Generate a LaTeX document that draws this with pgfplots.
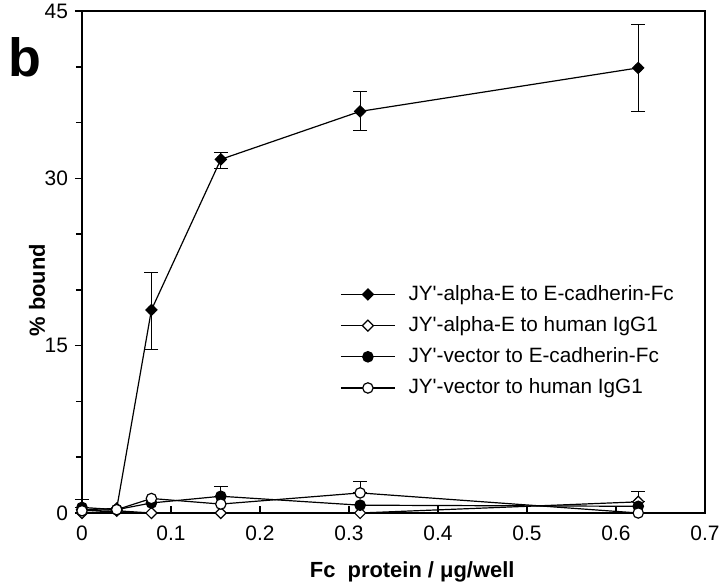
\documentclass[border=0pt]{standalone}
\usepackage{fontspec}
\setmainfont{Liberation Sans}
\usepackage{pgfplots}
\pgfplotsset{compat=1.18}

\begin{document}
\begin{tikzpicture}
\begin{axis}[
  name=main,
  scale only axis,
  width=311.5bp, height=251bp,
  xmin=0, xmax=0.7, ymin=0, ymax=45,
  xtick={0,0.1,0.2,0.3,0.4,0.5,0.6,0.7},
  ytick={0,15,30,45},
  minor ytick={5,10,20,25,35,40},
  xtick pos=left, ytick pos=left,
  xtick align=inside, ytick align=outside,
  major tick length=3.5bp, minor tick length=3bp,
  axis line style={line width=1bp},
  every tick/.style={black, line width=0.8bp},
  tick label style={font=\fontsize{10.5}{12}\selectfont},
  /pgf/number format/assume math mode=true,
  xticklabel style={/pgf/number format/fixed, yshift=-3bp},
  xlabel={\bfseries Fc\ \ protein / μg/well},
  ylabel={\bfseries \%\ bound},
  label style={font=\fontsize{11}{13}\selectfont},
  xlabel style={at={(axis description cs:0.53,-0.1175)}, anchor=center},
  ylabel style={at={(axis description cs:-0.0722,0.444)}, anchor=center},
  clip=false,
  legend style={at={(0.414,0.462)}, anchor=north west, draw=none, fill=none,
    font=\fontsize{10.4}{12}\selectfont, row sep=2.6bp, column sep=4.5bp, inner sep=0pt},
  legend cell align=left,
  legend image code/.code={\draw[mark repeat=2,mark phase=2,#1]
    plot coordinates {(0bp,0bp) (13.5bp,0bp) (27bp,0bp)};},
]
% error bars, drawn first so the markers sit on top
\addplot[forget plot, only marks, mark=none,
  error bars/.cd, y dir=both, y explicit,
  error bar style={black, line width=0.5bp},
  error mark options={rotate=90, black, mark size=3.5bp, line width=0.5bp}]
  coordinates {
  (0.078,18.2) += (0,3.4) -= (0,3.5)
  (0.156,31.7) += (0,0.6) -= (0,0.8)
  (0.3125,36.0) += (0,1.8) -= (0,1.7)
  (0.625,39.9) += (0,3.9) -= (0,3.9)
  (0.625,1.0) += (0,0.9) -= (0,0)
  (0,0.5) += (0,0.7) -= (0,0)
  (0.156,1.5) += (0,0.9) -= (0,0)
  (0.3125,1.8) += (0,1.0) -= (0,0)
};
\addplot[black, line width=0.6bp, mark=square*, mark size=1.95bp,
  mark options={rotate=45, fill=black, solid}]
  coordinates {(0,0.3) (0.039,0.4) (0.078,18.2) (0.156,31.7) (0.3125,36.0) (0.625,39.9)};
\addlegendentry{JY\textquotesingle-alpha-E to E-cadherin-Fc}
\addplot[black, line width=0.6bp, mark=square*, mark size=1.95bp,
  mark options={rotate=45, fill=white, solid}]
  coordinates {(0,0) (0.039,0.2) (0.078,0) (0.156,0) (0.3125,0) (0.625,1.0)};
\addlegendentry{JY\textquotesingle-alpha-E to human IgG1}
\addplot[black, line width=0.6bp, mark=*, mark size=2.6bp,
  mark options={fill=black, solid}]
  coordinates {(0,0.5) (0.039,0.3) (0.078,0.9) (0.156,1.5) (0.3125,0.7) (0.625,0.6)};
\addlegendentry{JY\textquotesingle-vector to E-cadherin-Fc}
\addplot[black, line width=0.6bp, mark=*, mark size=2.6bp,
  mark options={fill=white, solid}]
  coordinates {(0,0.2) (0.039,0.3) (0.078,1.3) (0.156,0.8) (0.3125,1.8) (0.625,0)};
\addlegendentry{JY\textquotesingle-vector to human IgG1}

\node[font=\fontsize{27}{27}\bfseries\selectfont] at (rel axis cs:-0.0915,0.908) {b};
\coordinate (bl) at (rel axis cs:-0.1316,-0.1474);
\coordinate (tr) at (rel axis cs:1.0241,1.0219);
\end{axis}
\pgfresetboundingbox
\path[use as bounding box] (bl) rectangle (tr);
\end{tikzpicture}
\end{document}
